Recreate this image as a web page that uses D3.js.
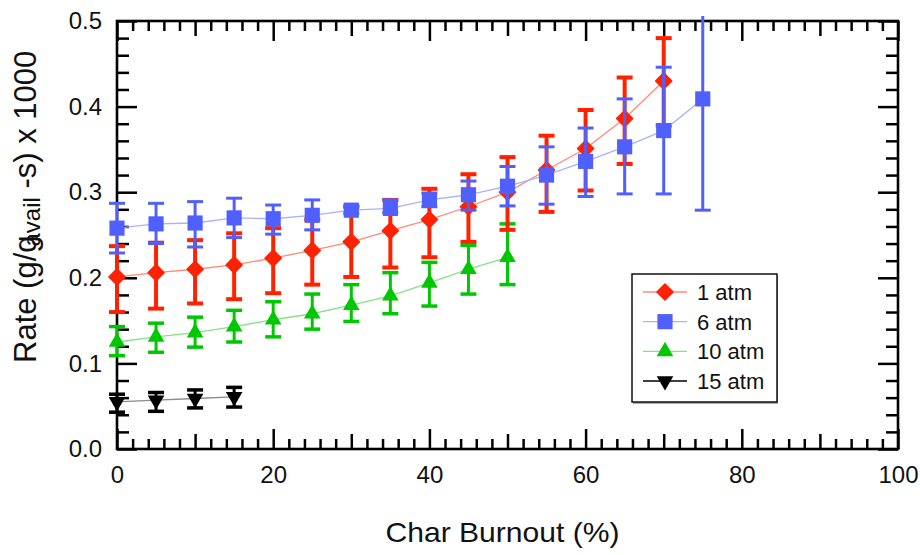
<!DOCTYPE html>
<html>
<head>
<meta charset="utf-8">
<script src="https://cdn.jsdelivr.net/npm/d3@7"></script>
<style>
body { margin: 0; background: #fff; }
text { font-family: "Liberation Sans", Arial, sans-serif; }
</style>
</head>
<body>
<svg id="my_container" width="920" height="555"></svg>
<script>
// burnout (%) positions per series
var burnout1 = [0, 5, 10, 15, 20, 25, 30, 35, 40, 45, 50, 55, 60, 65, 70];
var burnout6 = [0, 5, 10, 15, 20, 25, 30, 35, 40, 45, 50, 55, 60, 65, 70, 75];
var burnout10 = [0, 5, 10, 15, 20, 25, 30, 35, 40, 45, 50];
var burnout15 = [0, 5, 10, 15];

// rates (g/g_avail-s x 1000) and error bar ends
var rate1 = [0.201, 0.206, 0.210, 0.215, 0.223, 0.232, 0.242, 0.255, 0.268, 0.283, 0.300, 0.326, 0.351, 0.386, 0.430];
var hi1   = [0.237, 0.241, 0.244, 0.252, 0.258, 0.268, 0.283, 0.291, 0.304, 0.321, 0.341, 0.366, 0.396, 0.434, 0.480];
var lo1   = [0.160, 0.164, 0.170, 0.175, 0.182, 0.192, 0.201, 0.212, 0.224, 0.242, 0.256, 0.277, 0.302, 0.333, 0.378];

var rate6 = [0.258, 0.263, 0.264, 0.270, 0.269, 0.273, 0.279, 0.281, 0.291, 0.297, 0.307, 0.320, 0.336, 0.353, 0.372, 0.409];
var hi6   = [0.287, 0.287, 0.289, 0.293, 0.285, 0.291, 0.284, 0.291, 0.299, 0.313, 0.330, 0.353, 0.375, 0.409, 0.446, 0.540];
var lo6   = [0.229, 0.240, 0.236, 0.247, 0.251, 0.256, 0.275, 0.276, 0.283, 0.279, 0.284, 0.286, 0.295, 0.298, 0.298, 0.279];

var rate10 = [0.125, 0.131, 0.136, 0.143, 0.151, 0.158, 0.168, 0.179, 0.194, 0.210, 0.224];
var hi10   = [0.143, 0.147, 0.154, 0.162, 0.172, 0.181, 0.192, 0.206, 0.218, 0.238, 0.263];
var lo10   = [0.109, 0.113, 0.119, 0.125, 0.131, 0.140, 0.149, 0.158, 0.167, 0.181, 0.192];

var rate15 = [0.055, 0.057, 0.059, 0.061];
var hi15   = [0.064, 0.066, 0.069, 0.072];
var lo15   = [0.043, 0.044, 0.048, 0.049];

var seriesNames = ["1 atm", "6 atm", "10 atm", "15 atm"];
var xTickLabels = ["0", "20", "40", "60", "80", "100"];
var yTickLabels = ["0.0", "0.1", "0.2", "0.3", "0.4", "0.5"];

var plotLeft = 117, plotRight = 898, plotTop = 21, plotBottom = 449;

var xScale = d3.scaleLinear().domain([0, 100]).range([plotLeft, plotRight]);
var yScale = d3.scaleLinear().domain([0, 0.5]).range([plotBottom, plotTop]);

var svg = d3.select("#my_container");

// clip so the long 75% bar stops just over the frame
svg.append("clipPath").attr("id", "plotclip")
    .append("rect")
    .attr("x", 0).attr("y", plotTop - 5)
    .attr("width", 920).attr("height", 555);

var xMinor = d3.range(0, 101, 2);
var yMinor = d3.range(0, 26).map(function(i){ return +(i * 0.02).toFixed(2); });

function xTickLen(d){
    if (d % 20 === 0) return 20;
    if (d % 10 === 0) return 15;
    return 10;
}
function yTickLen(d){
    var i = Math.round(d * 100);
    if (i % 10 === 0) return 20;
    return 12;
}

// bottom axis with labels
var gx = svg.append("g")
    .attr("transform", "translate(0," + plotBottom + ")")
    .call(d3.axisBottom(xScale)
        .tickValues(xMinor)
        .tickSize(-10)
        .tickPadding(17)
        .tickFormat(function(d){
            return d % 20 === 0 ? xTickLabels[d / 20] : "";
        }));
gx.selectAll(".tick line").attr("y2", function(d){ return -xTickLen(d); });

// top axis
var gxt = svg.append("g")
    .attr("transform", "translate(0," + plotTop + ")")
    .call(d3.axisTop(xScale).tickValues(xMinor).tickSize(-10).tickFormat(""));
gxt.selectAll(".tick line").attr("y2", function(d){ return xTickLen(d); });

// left axis with labels
var gy = svg.append("g")
    .attr("transform", "translate(" + plotLeft + ",0)")
    .call(d3.axisLeft(yScale)
        .tickValues(yMinor)
        .tickSize(-12)
        .tickPadding(15)
        .tickFormat(function(d){
            var i = Math.round(d * 100);
            return i % 10 === 0 ? yTickLabels[i / 10] : "";
        }));
gy.selectAll(".tick line").attr("x2", function(d){ return yTickLen(d); });

// right axis
var gyr = svg.append("g")
    .attr("transform", "translate(" + plotRight + ",0)")
    .call(d3.axisRight(yScale).tickValues(yMinor).tickSize(-12).tickFormat(""));
gyr.selectAll(".tick line").attr("x2", function(d){ return -yTickLen(d); });

svg.selectAll(".domain").remove();
svg.selectAll(".tick line")
    .attr("stroke", "black")
    .attr("stroke-width", 2.5);
svg.selectAll("g").attr("font-size", null).attr("font-family", null);
svg.selectAll(".tick text")
    .attr("font-size", 24)
    .attr("fill", "#111");

// frame
svg.append("rect")
    .attr("x", plotLeft).attr("y", plotTop)
    .attr("width", plotRight - plotLeft).attr("height", plotBottom - plotTop)
    .attr("fill", "none")
    .attr("stroke", "black")
    .attr("stroke-width", 2.6);

// series definitions
var series = [
    { name: seriesNames[3], x: burnout15, v: rate15, hi: hi15, lo: lo15, color: "#000000", line: "#8a8a8a", shape: "down", stem: 3, cap: 3.5 },
    { name: seriesNames[2], x: burnout10, v: rate10, hi: hi10, lo: lo10, color: "#00c800", line: "#88e088", shape: "up", stem: 3, cap: 3.5 },
    { name: seriesNames[0], x: burnout1, v: rate1, hi: hi1, lo: lo1, color: "#ff2200", line: "#ff8a78", shape: "diamond", stem: 4, cap: 4 },
    { name: seriesNames[1], x: burnout6, v: rate6, hi: hi6, lo: lo6, color: "#5060ff", line: "#a8b0ff", shape: "square", stem: 3, cap: 3 }
];

function symbolPath(shape){
    if (shape === "square") return d3.symbol().type(d3.symbolSquare).size(230)();
    if (shape === "diamond") return d3.symbol().type(d3.symbolSquare).size(130)();
    return d3.symbol().type(d3.symbolTriangle).size(120)();
}
function symbolRotate(shape){
    if (shape === "diamond") return 45;
    if (shape === "down") return 180;
    return 0;
}

var plot = svg.append("g").attr("clip-path", "url(#plotclip)");
var capHalf = 8;

series.forEach(function(s){
    var pts = s.x.map(function(b, i){
        return { b: b, v: s.v[i], hi: s.hi[i], lo: s.lo[i] };
    });
    var g = plot.append("g");

    g.append("path")
        .datum(pts)
        .attr("fill", "none")
        .attr("stroke", s.line)
        .attr("stroke-width", 1.3)
        .attr("d", d3.line()
            .x(function(d){ return xScale(d.b); })
            .y(function(d){ return yScale(d.v); }));

    g.selectAll("line.stem")
        .data(pts)
        .enter()
        .append("line")
        .attr("x1", function(d){ return xScale(d.b); })
        .attr("x2", function(d){ return xScale(d.b); })
        .attr("y1", function(d){ return yScale(d.hi); })
        .attr("y2", function(d){ return yScale(d.lo); })
        .attr("stroke", s.color)
        .attr("stroke-width", s.stem);

    ["hi", "lo"].forEach(function(k){
        g.selectAll("line.cap" + k)
            .data(pts.filter(function(d){ return d[k] <= 0.5; }))
            .enter()
            .append("line")
            .attr("x1", function(d){ return xScale(d.b) - capHalf; })
            .attr("x2", function(d){ return xScale(d.b) + capHalf; })
            .attr("y1", function(d){ return yScale(d[k]); })
            .attr("y2", function(d){ return yScale(d[k]); })
            .attr("stroke", s.color)
            .attr("stroke-width", s.cap);
    });

    g.selectAll("path.mark")
        .data(pts)
        .enter()
        .append("path")
        .attr("d", symbolPath(s.shape))
        .attr("transform", function(d){
            return "translate(" + xScale(d.b) + "," + yScale(d.v) + ") rotate(" + symbolRotate(s.shape) + ")";
        })
        .attr("fill", s.color)
        .attr("stroke", s.color)
        .attr("stroke-width", s.shape === "diamond" ? 1.5 : 0)
        .attr("stroke-linejoin", "round");
});

// legend
var legend = svg.append("g");
legend.append("rect")
    .attr("x", 633).attr("y", 275)
    .attr("width", 145).attr("height", 129)
    .attr("fill", "#aaa");
legend.append("rect")
    .attr("x", 632).attr("y", 274)
    .attr("width", 145).attr("height", 128)
    .attr("fill", "white")
    .attr("stroke", "black")
    .attr("stroke-width", 1.4);

var legendOrder = [series[2], series[3], series[1], series[0]];
var rowY = d3.scalePoint().domain(seriesNames).range([292, 381]);

legendOrder.forEach(function(s){
    var ly = rowY(s.name);
    legend.append("line")
        .attr("x1", 643).attr("x2", 687)
        .attr("y1", ly).attr("y2", ly)
        .attr("stroke", s.shape === "down" ? "#000" : s.line)
        .attr("stroke-width", 1.4);
    legend.append("path")
        .attr("d", symbolPath(s.shape))
        .attr("transform", "translate(665," + ly + ") rotate(" + symbolRotate(s.shape) + ")")
        .attr("fill", s.color)
        .attr("stroke", s.color)
        .attr("stroke-width", s.shape === "diamond" ? 1.5 : 0)
        .attr("stroke-linejoin", "round");
    legend.append("text")
        .attr("x", 697)
        .attr("y", ly + 8)
        .attr("font-size", 22)
        .attr("fill", "#111")
        .text(s.name);
});

// axis titles
svg.append("text")
    .attr("x", (plotLeft + plotRight) / 2 - 5)
    .attr("y", 542)
    .attr("text-anchor", "middle")
    .attr("font-size", 28)
    .attr("fill", "#111")
    .attr("textLength", 234)
    .attr("lengthAdjust", "spacingAndGlyphs")
    .text("Char Burnout (%)");

var yt = svg.append("text")
    .attr("transform", "translate(36,363) rotate(-90)")
    .attr("font-size", 31)
    .attr("fill", "#111");
yt.append("tspan").text("Rate (g/g");
yt.append("tspan").attr("font-size", 24).attr("dx", -11).attr("dy", 4).text("avail");
yt.append("tspan").attr("dy", -4).text(" -s) x 1000");
</script>
</body>
</html>
